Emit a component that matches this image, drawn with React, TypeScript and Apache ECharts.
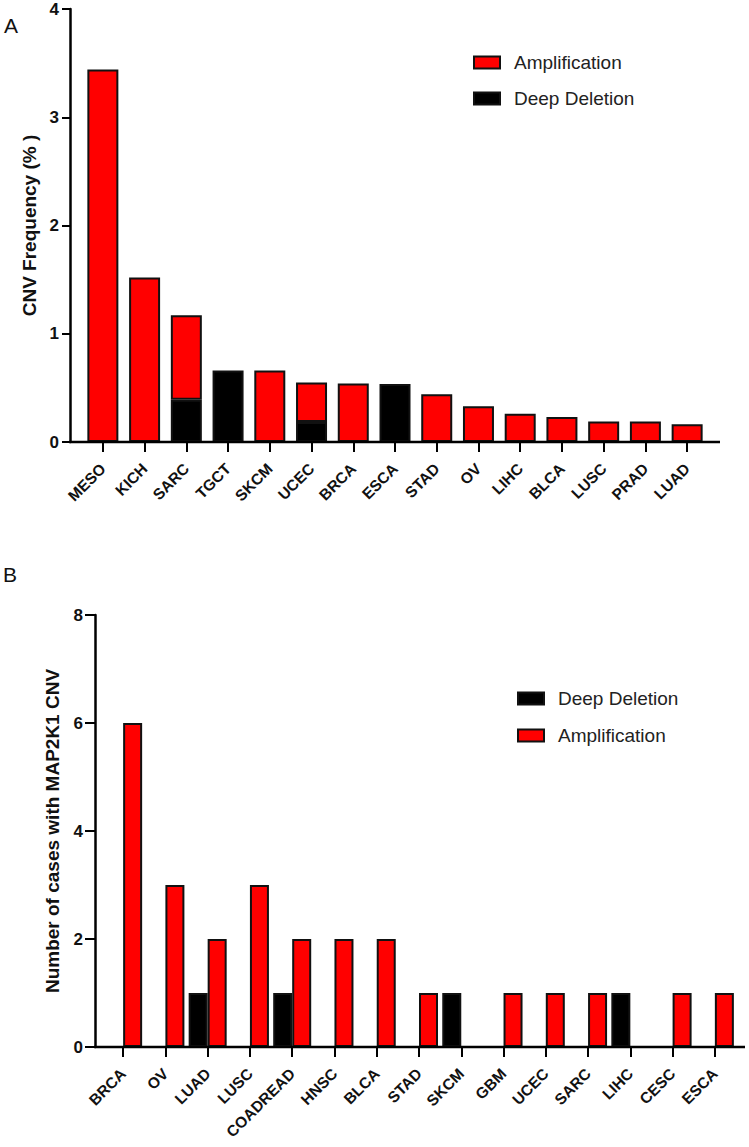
import React, { useEffect, useRef } from "react";
import * as echarts from "echarts";

const topCats = ["MESO", "KICH", "SARC", "TGCT", "SKCM", "UCEC", "BRCA", "ESCA", "STAD", "OV", "LIHC", "BLCA", "LUSC", "PRAD", "LUAD"];
const topAmp = [3.44, 1.52, 0.78, 0, 0.66, 0.365, 0.54, 0, 0.44, 0.33, 0.26, 0.23, 0.19, 0.19, 0.165];
const topDel = [0, 0, 0.39, 0.66, 0, 0.185, 0, 0.535, 0, 0, 0, 0, 0, 0, 0];

const botCats = ["BRCA", "OV", "LUAD", "LUSC", "COADREAD", "HNSC", "BLCA", "STAD", "SKCM", "GBM", "UCEC", "SARC", "LIHC", "CESC", "ESCA"];
const botDel = [0, 0, 1, 0, 1, 0, 0, 0, 1, 0, 0, 0, 1, 0, 0];
const botAmp = [6, 3, 2, 3, 2, 2, 2, 1, 0, 1, 1, 1, 0, 1, 1];

const RED = "#ff0000";
const BLACK = "#000000";
const EDGE = "#111111";
const FONT = "'Liberation Sans', Arial, sans-serif";

const nz = (a: number[]) => a.map((v) => (v === 0 ? null : v));

export default function App() {
  const ref = useRef<HTMLDivElement>(null);
  useEffect(() => {
    if (!ref.current) return;
    const chart = echarts.init(ref.current, null, { renderer: "svg" });
    const W = 749;

    const yAxisBase = (max: number, interval: number, offset: number, name: string, nameGap: number, nameSize: number, margin: number, tickLen: number) => ({
      type: "value",
      min: 0,
      max,
      interval,
      offset,
      name,
      nameLocation: "middle",
      nameGap,
      nameTextStyle: { fontSize: nameSize, fontWeight: "bold", color: "#111", fontFamily: FONT },
      axisLine: { show: true, lineStyle: { color: "#000", width: 2.5 } },
      axisTick: { show: true, length: tickLen, lineStyle: { color: "#000", width: 2 } },
      axisLabel: { fontSize: 17, fontWeight: "bold", color: "#111", margin, fontFamily: FONT },
      splitLine: { show: false },
    });

    const xAxisBase = (gridIndex: number, data: string[]) => ({
      type: "category",
      gridIndex,
      data,
      axisLine: { show: false },
      axisTick: { show: true, alignWithLabel: true, length: 10, lineStyle: { color: "#000", width: 2 } },
      axisLabel: { rotate: 45, fontSize: 15.5, fontWeight: "bold", color: "#111", margin: 24, interval: 0, fontFamily: FONT },
    });

    const legendBase = (left: number, top: number, gap: number, data: string[]) => ({
      orient: "vertical",
      left,
      top,
      icon: "rect",
      itemWidth: 26,
      itemHeight: 12,
      itemGap: gap,
      data,
      textStyle: { fontSize: 19, color: "#222", padding: [0, 0, 0, 9], fontFamily: FONT },
      selectedMode: false,
    });

    const option: any = {
      animation: false,
      textStyle: { fontFamily: FONT },
      grid: [
        { left: 82, right: W - 708, top: 9, height: 433 },
        { left: 102, right: W - 736, top: 615, height: 432 },
      ],
      xAxis: [xAxisBase(0, topCats), xAxisBase(1, botCats)],
      yAxis: [
        { ...yAxisBase(4, 1, 12, "CNV Frequency (% )", 30, 19, 11, 8), gridIndex: 0 },
        { ...yAxisBase(8, 2, 7, "Number of cases with MAP2K1 CNV", 33, 19, 12, 10), gridIndex: 1 },
      ],
      legend: [
        legendBase(468, 48, 17, ["Amplification", "Deep Deletion"]),
        legendBase(512, 684, 18, ["Deep Deletion", "Amplification"]),
      ],
      series: [
        {
          name: "Deep Deletion",
          type: "bar",
          xAxisIndex: 0,
          yAxisIndex: 0,
          stack: "top",
          barWidth: 31,
          data: nz(topDel),
          itemStyle: { color: BLACK, borderColor: EDGE, borderWidth: 2 },
        },
        {
          name: "Amplification",
          type: "bar",
          xAxisIndex: 0,
          yAxisIndex: 0,
          stack: "top",
          barWidth: 31,
          data: nz(topAmp),
          itemStyle: { color: RED, borderColor: EDGE, borderWidth: 2 },
        },
        {
          name: "Deep Deletion",
          type: "bar",
          xAxisIndex: 1,
          yAxisIndex: 1,
          barWidth: 19,
          barGap: "0%",
          data: nz(botDel),
          itemStyle: { color: BLACK, borderColor: EDGE, borderWidth: 2 },
        },
        {
          name: "Amplification",
          type: "bar",
          xAxisIndex: 1,
          yAxisIndex: 1,
          barWidth: 19,
          barGap: "0%",
          data: nz(botAmp),
          itemStyle: { color: RED, borderColor: EDGE, borderWidth: 2 },
        },
      ],
      graphic: [
        { type: "line", shape: { x1: 69, y1: 442, x2: 720, y2: 442 }, style: { stroke: "#000", lineWidth: 2.5 }, z: 10 },
        { type: "line", shape: { x1: 94, y1: 1047, x2: 745, y2: 1047 }, style: { stroke: "#000", lineWidth: 2.5 }, z: 10 },
        { type: "text", left: 4, top: 15, style: { text: "A", fontSize: 21, fill: "#111", fontFamily: FONT } },
        { type: "text", left: 3, top: 564, style: { text: "B", fontSize: 21, fill: "#111", fontFamily: FONT } },
      ],
    };
    chart.setOption(option);
    return () => chart.dispose();
  }, []);
  return <div ref={ref} style={{ position: "absolute", left: 0, top: 0, width: 749, height: 1147, background: "#fff" }} />;
}
